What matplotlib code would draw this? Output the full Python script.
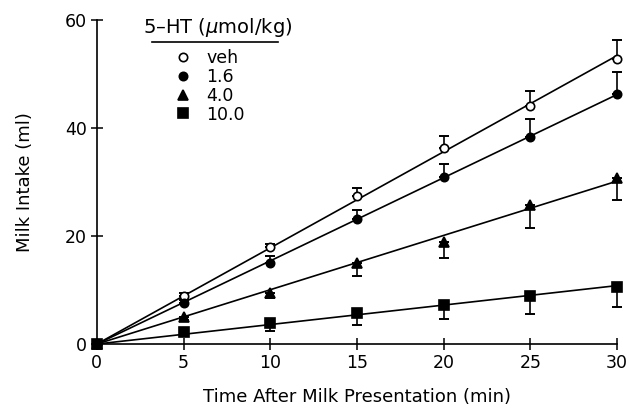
import numpy as np
import matplotlib
matplotlib.use('Agg')
from matplotlib import pyplot as plt
from matplotlib.lines import Line2D

# time after milk presentation (min)
t = [0, 5, 10, 15, 20, 25, 30]

# milk intake (ml) and SEM for each 5-HT dose
veh = [0, 8.9, 18.0, 27.4, 36.3, 44.1, 52.8]
veh_err = [0, 0.5, 0.6, 1.5, 2.2, 2.8, 3.5]
d16 = [0, 7.6, 15.0, 23.1, 30.9, 38.4, 46.3]
d16_err = [0, 0.6, 1.3, 1.7, 2.4, 3.2, 4.0]
d40 = [0, 5.0, 9.5, 15.0, 18.9, 25.7, 30.7]
d40_err = [0, 0.5, 1.0, 2.4, 3.0, 4.2, 4.0]
d100 = [0, 2.2, 3.9, 5.7, 7.2, 8.9, 10.6]
d100_err = [0, 0.5, 1.4, 2.2, 2.6, 3.3, 3.7]

labels = ['veh', '1.6', '4.0', '10.0']
markers = ['o', 'o', '^', 's']
faces = ['white', 'black', 'black', 'black']
err_up = [True, True, False, False]

plt.rcParams['font.family'] = ['DejaVu Sans']

fig = plt.figure(figsize=(6.29, 4.13), dpi=100)
ax = fig.add_axes([0.154, 0.167, 0.827, 0.785])

series = [veh, d16, d40, d100]
errs = [veh_err, d16_err, d40_err, d100_err]
x = np.array(t, dtype=float)
for y, e, m, fc, up, lab in zip(series, errs, markers, faces, err_up, labels):
    y = np.array(y)
    e = np.array(e)
    # regression line through the origin
    slope = np.sum(x * y) / np.sum(x * x)
    ax.plot([x[0], x[-1]], [0, slope * x[-1]], color='black', lw=1.2, zorder=2)
    if up:
        yerr = [np.zeros_like(e), e]
    else:
        yerr = [e, np.zeros_like(e)]
    ax.errorbar(x, y, yerr=yerr, fmt='none', ecolor='black', elinewidth=1.2,
                capsize=3.5, capthick=1.4, zorder=3, clip_on=False)
    ax.plot(x, y, linestyle='none', marker=m, ms=6.5 if m != 'o' else 6,
            mfc=fc, mec='black', mew=1.2, zorder=4, clip_on=False)

ax.set_xlim(0, 30)
ax.set_ylim(0, 60)
ax.set_xticks(range(0, 31, 5))
ax.set_yticks([0, 20, 40, 60])
ax.spines['top'].set_visible(False)
ax.spines['right'].set_visible(False)
for s in ['left', 'bottom']:
    ax.spines[s].set_linewidth(1.2)
ax.tick_params(direction='inout', length=8, width=1.1, labelsize=12.5, pad=3)
ax.set_xlabel('Time After Milk Presentation (min)', fontsize=13, labelpad=12)
ax.set_ylabel('Milk Intake (ml)', fontsize=13, labelpad=22)

# legend with underlined title
handles = [Line2D([], [], linestyle='none', marker=m, mfc=fc, mec='black',
                  ms=6 if m == 'o' else 6.5, mew=1.2)
           for m, fc in zip(markers, faces)]
ax.legend(handles, labels, loc='upper left', bbox_to_anchor=(0.132, 0.937),
          frameon=False, fontsize=12.5, handlelength=1.0, handletextpad=0.85,
          labelspacing=0.05, borderpad=0)
ax.text(0.232, 0.96, '5\u2013HT ($\\mu$mol/kg)', transform=ax.transAxes,
        ha='center', va='baseline', fontsize=14)
ax.plot([0.106, 0.348], [0.932, 0.932], transform=ax.transAxes, color='black',
        lw=1.2, clip_on=False)

fig.savefig('out.png', dpi=100)
